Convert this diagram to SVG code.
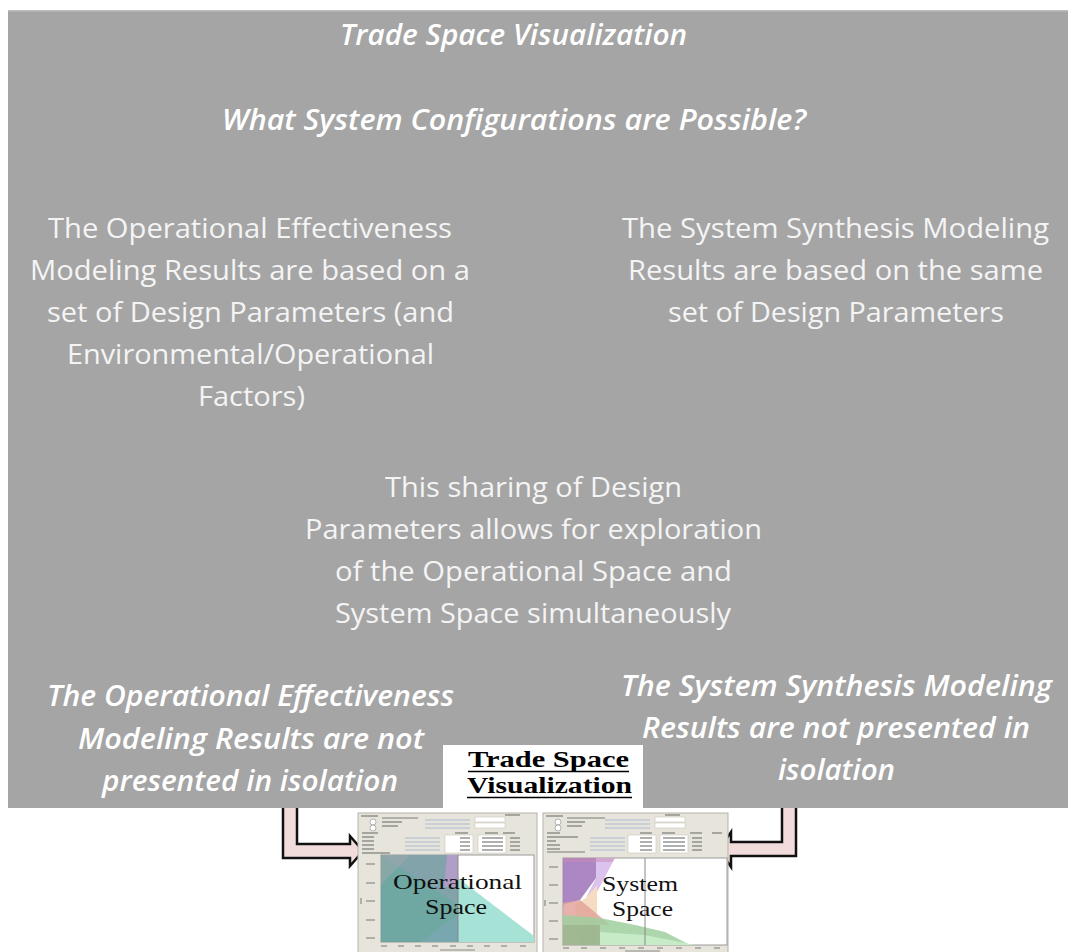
<svg xmlns="http://www.w3.org/2000/svg" width="1068" height="952" viewBox="0 0 1068 952">
<defs>
<style>
.body{font-family:"Open Sans","Noto Sans","Liberation Sans",sans-serif;font-size:28px;fill:#f4f4f4;text-anchor:middle}
.bi{font-family:"Open Sans","Noto Sans","Liberation Sans",sans-serif;font-size:28px;font-weight:600;font-style:italic;fill:#ffffff;text-anchor:middle}
.hd{font-family:"Open Sans","Noto Sans","Liberation Sans",sans-serif;font-size:29px;font-weight:600;font-style:italic;fill:#ffffff;text-anchor:middle}
.lbl{font-family:"Liberation Serif","Times New Roman",serif;font-size:23px;font-weight:700;fill:#000;text-anchor:middle}
.plt{font-family:"Liberation Serif","Times New Roman",serif;font-size:21px;fill:#111;text-anchor:middle}
.arrow{fill:#f2dcdb;stroke:#111;stroke-width:2.5;stroke-linejoin:miter}
.win{fill:#e7e5db;stroke:#b5b3a8;stroke-width:1}
.plot{fill:#ffffff;stroke:#9a9a9a;stroke-width:1}
.tx{stroke:#7a7a7a;stroke-width:1.2}
.sl{stroke:#a9bad0;stroke-width:1.1}
.fld{fill:#ffffff;stroke:#c9c7bd;stroke-width:0.6}
.tk{stroke:#8a8a8a;stroke-width:1.2}
</style>
</defs>

<g id="connectors">
<path class="arrow" d="M283,806 V858 H350 V866 L363,851 L350,836 V844 H297 V806"/>
<path class="arrow" d="M796,806 V856 H731 V867 L719,849.5 L731,832 V842 H782 V806"/>
</g>

<g id="background-panel">
<rect x="8" y="10" width="1060" height="798" fill="#a5a5a5"/>
<rect x="8" y="10" width="1060" height="1.5" fill="#bdbdbd"/>
</g>

<g id="title">
<text class="hd" x="513.5" y="45" textLength="347" lengthAdjust="spacingAndGlyphs">Trade Space Visualization</text>
</g>

<g id="question">
<text class="hd" x="514" y="130" font-size="30" textLength="584" lengthAdjust="spacingAndGlyphs">What System Configurations  are Possible?</text>
</g>

<g id="operational-results">
<text class="body" x="250" y="238" textLength="404" lengthAdjust="spacingAndGlyphs">The Operational Effectiveness</text>
<text class="body" x="250" y="280" textLength="440" lengthAdjust="spacingAndGlyphs">Modeling Results are based on a</text>
<text class="body" x="250.5" y="322" textLength="407" lengthAdjust="spacingAndGlyphs">set of Design Parameters (and</text>
<text class="body" x="250.5" y="364" textLength="367" lengthAdjust="spacingAndGlyphs">Environmental/Operational</text>
<text class="body" x="251.5" y="406" textLength="107" lengthAdjust="spacingAndGlyphs">Factors)</text>
</g>

<g id="synthesis-results">
<text class="body" x="835.5" y="238" textLength="427" lengthAdjust="spacingAndGlyphs">The System Synthesis Modeling</text>
<text class="body" x="835.5" y="280" textLength="415" lengthAdjust="spacingAndGlyphs">Results are based on the same</text>
<text class="body" x="836" y="322" textLength="336" lengthAdjust="spacingAndGlyphs">set of Design Parameters</text>
</g>

<g id="sharing">
<text class="body" x="533.5" y="497" textLength="297" lengthAdjust="spacingAndGlyphs">This sharing of Design</text>
<text class="body" x="533.5" y="539" textLength="457" lengthAdjust="spacingAndGlyphs">Parameters allows for exploration</text>
<text class="body" x="533.5" y="581" textLength="397" lengthAdjust="spacingAndGlyphs">of the Operational Space and</text>
<text class="body" x="533" y="623" textLength="396" lengthAdjust="spacingAndGlyphs">System Space simultaneously</text>
</g>

<g id="operational-not-isolated">
<text class="bi" x="250.5" y="706" textLength="407" lengthAdjust="spacingAndGlyphs">The Operational Effectiveness</text>
<text class="bi" x="251" y="749" textLength="346" lengthAdjust="spacingAndGlyphs">Modeling Results are not</text>
<text class="bi" x="250" y="791" textLength="296" lengthAdjust="spacingAndGlyphs">presented in isolation</text>
</g>

<g id="synthesis-not-isolated">
<text class="bi" x="836.5" y="696" textLength="431" lengthAdjust="spacingAndGlyphs">The System Synthesis Modeling</text>
<text class="bi" x="836" y="738" textLength="388" lengthAdjust="spacingAndGlyphs">Results are not presented in</text>
<text class="bi" x="836.5" y="780" textLength="117" lengthAdjust="spacingAndGlyphs">isolation</text>
</g>

<g id="trade-space-label">
<rect x="443" y="745" width="200" height="64" fill="#ffffff"/>
<text class="lbl" x="548.5" y="767" textLength="161" lengthAdjust="spacingAndGlyphs">Trade Space</text>
<line x1="468" y1="771.5" x2="629" y2="771.5" stroke="#000" stroke-width="1.6"/>
<text class="lbl" x="549.5" y="793" textLength="165" lengthAdjust="spacingAndGlyphs">Visualization</text>
<line x1="467" y1="797.5" x2="632" y2="797.5" stroke="#000" stroke-width="1.6"/>
</g>

<g id="operational-space">
<rect class="win" x="358" y="813" width="179" height="140"/>
<line class="tx" x1="361" y1="816" x2="378" y2="816"/>
<line class="tx" x1="382" y1="818" x2="418" y2="818"/>
<line class="tx" x1="382" y1="822" x2="402" y2="822"/>
<line class="tx" x1="382" y1="826" x2="398" y2="826"/>
<circle cx="373" cy="822" r="3" fill="#fff" stroke="#888" stroke-width="0.6"/>
<circle cx="373" cy="828" r="3" fill="#fff" stroke="#888" stroke-width="0.6"/>
<line class="sl" x1="425" y1="820" x2="470" y2="820"/>
<line class="sl" x1="425" y1="824" x2="470" y2="824"/>
<line class="sl" x1="425" y1="828" x2="470" y2="828"/>
<rect class="fld" x="475" y="817" width="30" height="5"/>
<rect class="fld" x="475" y="823" width="30" height="5"/>
<line class="tx" x1="505" y1="815" x2="520" y2="815"/>
<line class="tx" x1="362" y1="833" x2="378" y2="833"/>
<line class="tx" x1="455" y1="833" x2="468" y2="833"/>
<line class="tx" x1="485" y1="833" x2="498" y2="833"/>
<line class="tx" x1="503" y1="833" x2="515" y2="833"/>
<line class="tx" x1="362" y1="837" x2="374" y2="837"/>
<line class="tx" x1="362" y1="841" x2="374" y2="841"/>
<line class="tx" x1="362" y1="845" x2="374" y2="845"/>
<line class="tx" x1="362" y1="849" x2="374" y2="849"/>
<line class="tx" x1="362" y1="853" x2="390" y2="853"/>
<line class="sl" x1="405" y1="838" x2="440" y2="838"/>
<line class="sl" x1="405" y1="842" x2="440" y2="842"/>
<line class="sl" x1="405" y1="846" x2="440" y2="846"/>
<line class="sl" x1="405" y1="850" x2="440" y2="850"/>
<rect class="fld" x="445" y="835" width="28" height="18"/>
<rect class="fld" x="478" y="835" width="28" height="18"/>
<line class="tx" x1="460" y1="838" x2="470" y2="838"/>
<line class="tx" x1="460" y1="842" x2="470" y2="842"/>
<line class="tx" x1="460" y1="846" x2="470" y2="846"/>
<line class="tx" x1="460" y1="850" x2="470" y2="850"/>
<line class="tx" x1="482" y1="838" x2="503" y2="838"/>
<line class="tx" x1="482" y1="842" x2="503" y2="842"/>
<line class="tx" x1="482" y1="846" x2="503" y2="846"/>
<line class="tx" x1="482" y1="850" x2="503" y2="850"/>
<line class="tx" x1="510" y1="838" x2="520" y2="838"/>
<line class="tx" x1="510" y1="842" x2="520" y2="842"/>
<line class="tx" x1="510" y1="846" x2="520" y2="846"/>
<line class="tx" x1="510" y1="850" x2="520" y2="850"/>
<rect class="plot" x="381" y="855" width="153" height="87"/>
<rect x="381" y="855" width="77" height="87" fill="#5f9f99" opacity="0.9"/>
<polygon points="381,855 458,855 458,905" fill="#8aa2ad" opacity="0.75"/>
<polygon points="381,855 410,855 381,885" fill="#9aa8ab" opacity="0.6"/>
<polygon points="420,942 458,915 458,942" fill="#7ea6b4" opacity="0.7"/>
<polygon points="458,878 534,936 534,942 458,942" fill="#a7e2d6"/>
<polygon points="447,855 458,855 458,887 444,887" fill="#b59ccb" opacity="0.9"/>
<line x1="458" y1="855" x2="458" y2="942" stroke="#888" stroke-width="1"/>
<line class="tk" x1="366" y1="864" x2="375" y2="864"/>
<line class="tk" x1="366" y1="883" x2="375" y2="883"/>
<line class="tk" x1="366" y1="901" x2="375" y2="901"/>
<line class="tk" x1="366" y1="920" x2="375" y2="920"/>
<line class="tk" x1="366" y1="938" x2="375" y2="938"/>
<line class="tk" x1="361" y1="898" x2="361" y2="904"/>
<line class="tk" x1="381" y1="946" x2="387" y2="946"/>
<line class="tk" x1="398" y1="946" x2="404" y2="946"/>
<line class="tk" x1="415" y1="946" x2="421" y2="946"/>
<line class="tk" x1="432" y1="946" x2="438" y2="946"/>
<line class="tk" x1="450" y1="946" x2="456" y2="946"/>
<line class="tk" x1="467" y1="946" x2="473" y2="946"/>
<line class="tk" x1="484" y1="946" x2="490" y2="946"/>
<line class="tk" x1="501" y1="946" x2="507" y2="946"/>
<line class="tk" x1="520" y1="946" x2="526" y2="946"/>
<line class="tk" x1="440" y1="950" x2="475" y2="950"/>
<text class="plt" x="457.5" y="889" textLength="129" lengthAdjust="spacingAndGlyphs">Operational</text>
<text class="plt" x="456" y="914" textLength="62" lengthAdjust="spacingAndGlyphs">Space</text>
</g>

<g id="system-space">
<rect class="win" x="543" y="813" width="185" height="140"/>
<line class="tx" x1="546" y1="816" x2="563" y2="816"/>
<line class="tx" x1="567" y1="818" x2="605" y2="818"/>
<line class="tx" x1="567" y1="822" x2="585" y2="822"/>
<line class="tx" x1="567" y1="826" x2="582" y2="826"/>
<circle cx="558" cy="822" r="3" fill="#fff" stroke="#888" stroke-width="0.6"/>
<circle cx="558" cy="828" r="3" fill="#fff" stroke="#888" stroke-width="0.6"/>
<line class="sl" x1="605" y1="820" x2="650" y2="820"/>
<line class="sl" x1="605" y1="824" x2="650" y2="824"/>
<line class="sl" x1="605" y1="828" x2="650" y2="828"/>
<rect class="fld" x="655" y="817" width="30" height="5"/>
<rect class="fld" x="655" y="823" width="30" height="5"/>
<line class="tx" x1="665" y1="815" x2="680" y2="815"/>
<line class="tx" x1="547" y1="833" x2="560" y2="833"/>
<line class="tx" x1="640" y1="833" x2="652" y2="833"/>
<line class="tx" x1="662" y1="833" x2="675" y2="833"/>
<line class="tx" x1="690" y1="833" x2="702" y2="833"/>
<line class="tx" x1="712" y1="833" x2="722" y2="833"/>
<line class="tx" x1="547" y1="837" x2="578" y2="837"/>
<line class="tx" x1="547" y1="841" x2="556" y2="841"/>
<line class="tx" x1="547" y1="845" x2="560" y2="845"/>
<line class="tx" x1="547" y1="849" x2="560" y2="849"/>
<line class="tx" x1="547" y1="852" x2="585" y2="852"/>
<line class="sl" x1="590" y1="838" x2="625" y2="838"/>
<line class="sl" x1="590" y1="842" x2="625" y2="842"/>
<line class="sl" x1="590" y1="846" x2="625" y2="846"/>
<line class="sl" x1="590" y1="850" x2="625" y2="850"/>
<rect class="fld" x="628" y="835" width="28" height="18"/>
<rect class="fld" x="660" y="835" width="28" height="18"/>
<line class="tx" x1="640" y1="838" x2="652" y2="838"/>
<line class="tx" x1="640" y1="842" x2="652" y2="842"/>
<line class="tx" x1="640" y1="846" x2="652" y2="846"/>
<line class="tx" x1="640" y1="850" x2="652" y2="850"/>
<line class="tx" x1="663" y1="838" x2="685" y2="838"/>
<line class="tx" x1="663" y1="842" x2="685" y2="842"/>
<line class="tx" x1="663" y1="846" x2="685" y2="846"/>
<line class="tx" x1="663" y1="850" x2="685" y2="850"/>
<line class="tx" x1="692" y1="838" x2="702" y2="838"/>
<line class="tx" x1="692" y1="842" x2="702" y2="842"/>
<line class="tx" x1="692" y1="846" x2="702" y2="846"/>
<line class="tx" x1="692" y1="850" x2="702" y2="850"/>
<rect class="plot" x="563" y="858" width="164" height="87"/>
<polygon points="563,858 596,858 596,878 580,900 563,905" fill="#a27bbd" opacity="0.9"/>
<polygon points="596,858 615,858 597,892 586,898 596,878" fill="#dcc2ee"/>
<polygon points="563,858 615,858 612,862 563,862" fill="#c98ab0" opacity="0.5"/>
<polygon points="586,898 597,885 597,945 580,945 575,905" fill="#f5dcc2"/>
<polygon points="563,903 580,900 590,908 610,925 563,925" fill="#e2a49c" opacity="0.85"/>
<polygon points="563,915 600,918 635,925 665,932 690,945 563,945" fill="#9fcf9f" opacity="0.85"/>
<polygon points="563,925 600,925 600,945 563,945" fill="#9db28c" opacity="0.8"/>
<polygon points="600,932 645,935 695,945 600,945" fill="#c6ebc6"/>
<line x1="645" y1="858" x2="645" y2="945" stroke="#888" stroke-width="1"/>
<line class="tk" x1="549" y1="867" x2="558" y2="867"/>
<line class="tk" x1="549" y1="885" x2="558" y2="885"/>
<line class="tk" x1="549" y1="903" x2="558" y2="903"/>
<line class="tk" x1="549" y1="921" x2="558" y2="921"/>
<line class="tk" x1="549" y1="939" x2="558" y2="939"/>
<line class="tk" x1="545" y1="900" x2="545" y2="906"/>
<line class="tk" x1="563" y1="948" x2="569" y2="948"/>
<line class="tk" x1="581" y1="948" x2="587" y2="948"/>
<line class="tk" x1="600" y1="948" x2="606" y2="948"/>
<line class="tk" x1="619" y1="948" x2="625" y2="948"/>
<line class="tk" x1="638" y1="948" x2="644" y2="948"/>
<line class="tk" x1="657" y1="948" x2="663" y2="948"/>
<line class="tk" x1="676" y1="948" x2="682" y2="948"/>
<line class="tk" x1="695" y1="948" x2="701" y2="948"/>
<line class="tk" x1="714" y1="948" x2="720" y2="948"/>
<line class="tk" x1="625" y1="951" x2="660" y2="951"/>
<text class="plt" x="640" y="891" textLength="76" lengthAdjust="spacingAndGlyphs">System</text>
<text class="plt" x="642.5" y="916" textLength="61" lengthAdjust="spacingAndGlyphs">Space</text>
</g>
</svg>
